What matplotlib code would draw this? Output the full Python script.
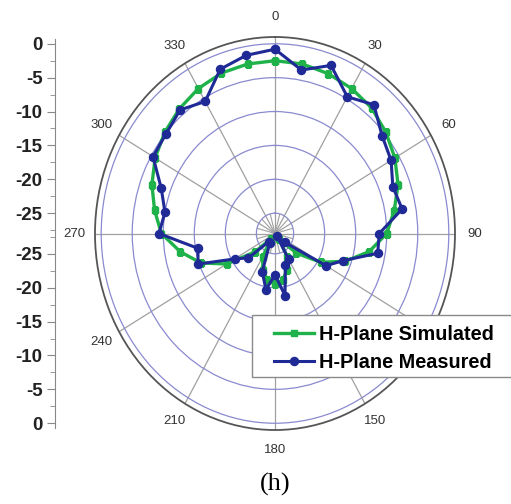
import numpy as np
import matplotlib
matplotlib.use('Agg')
import matplotlib.pyplot as plt
from matplotlib.patches import Rectangle

# H-plane pattern, dB, read every 10 degrees (0..350)
angles = list(range(0, 360, 10))
simulated = [-2.5, -2.6, -2.9, -3.3, -3.8, -4.7, -5.7, -6.9, -8.5, -10.0,
             -12.6, -16.0, -19.5, -23.5, -27.0, -24.0, -22.3, -21.0,
             -20.5, -21.0, -22.3, -24.0, -27.0, -23.8, -19.0, -15.3,
             -12.5, -9.7, -8.3, -6.9, -5.7, -4.8, -4.0, -3.3, -2.8, -2.6]
measured = [-0.8, -3.5, -1.6, -4.7, -3.2, -5.5, -6.4, -7.8, -7.2, -11.2,
            -11.2, -16.3, -18.5, -26.0, -27.5, -23.6, -23.1, -18.7,
            -21.9, -19.6, -22.0, -26.3, -26.4, -22.4, -20.5, -14.8,
            -15.4, -9.3, -10.0, -8.5, -5.3, -5.1, -4.2, -5.5, -2.2, -1.3]

angle_ticks = list(range(0, 360, 30))
# 120 sits under the legend box in the original
angle_labels = ['' if a == 120 else str(a) for a in angle_ticks]
r_ticks = [-25, -20, -15, -10, -5, 0]
left_ticks = [0, -5, -10, -15, -20, -25]
r_min, r_max = -28, 1

plt.rcParams['font.family'] = ['Liberation Sans', 'DejaVu Sans']

W, H = 511, 504
fig = plt.figure(figsize=(W / 100, H / 100), dpi=100)
ax = fig.add_axes([0.1859, 0.1468, 0.7045, 0.7798], projection='polar')
ax.set_aspect('auto')
ax.set_theta_zero_location('N')
ax.set_theta_direction(-1)
ax.set_ylim(r_min, r_max)

ax.set_xticks(np.deg2rad(angle_ticks))
ax.set_xticklabels(angle_labels, fontsize=9.5, color='#333333')
ax.set_xticks(np.deg2rad(np.arange(15, 360, 30)), minor=True)
ax.tick_params(axis='x', which='major', pad=4)
ax.tick_params(axis='x', which='minor', direction='in', length=5, color='#666666')
ax.xaxis.grid(True, color='#a0a0a0', lw=0.9)
ax.set_yticks(r_ticks)
ax.set_yticklabels([])
ax.yaxis.grid(True, color='#8a8ad0', lw=0.9)
ax.spines['polar'].set_color('#555555')
ax.spines['polar'].set_linewidth(1.3)

# short extra spokes inside the innermost ring
ax.vlines(np.deg2rad(np.arange(15, 360, 30)), r_min, r_ticks[0], color='#a0a0a0', lw=0.8)

th_s = np.deg2rad(angles + [angles[0]])
green, = ax.plot(th_s, simulated + [simulated[0]], color='#1fb24a', lw=2.4,
                 marker='s', ms=4.5, label='H-Plane Simulated', zorder=3)
blue, = ax.plot(th_s, measured + [measured[0]], color='#1f2a96', lw=2.2,
                marker='o', ms=5.8, label='H-Plane Measured', zorder=4)

# mirrored linear axis on the left
lax = fig.add_axes([55 / W, 0.1468, 0.001, 0.7798])
span = r_max - r_min
lax.set_ylim(-span, span)
pos = [t - r_min for t in left_ticks] + [-(t - r_min) for t in left_ticks]
lax.set_yticks(pos)
lax.set_yticklabels([str(t) for t in left_ticks] * 2, fontsize=13.5,
                    fontweight='bold', color='#222222')
minor = np.arange(-2.5, -30, -5)
lax.set_yticks(list(minor - r_min) + list(-(minor - r_min)), minor=True)
lax.tick_params(axis='y', which='major', length=6, color='#888888', pad=3)
lax.tick_params(axis='y', which='minor', length=3.5, color='#888888')
lax.set_xticks([])
for side in ['top', 'right', 'bottom']:
    lax.spines[side].set_visible(False)
lax.spines['left'].set_color('#888888')
lax.spines['left'].set_bounds(-28.7, 28.7)
lax.patch.set_visible(False)

# legend box runs off the right edge in the original
fig.patches.append(Rectangle((252 / W, 1 - 377 / H), 270 / W, 62 / H,
                             transform=fig.transFigure, facecolor='white',
                             edgecolor='#8a8a8a', lw=1.0, zorder=4))
fig.legend(handles=[green, blue], loc='center left',
           bbox_to_anchor=(274 / W, 1 - 348.5 / H), borderaxespad=0,
           frameon=False, prop={'weight': 'bold', 'size': 14.3},
           handlelength=2.0, handletextpad=0.25, borderpad=0,
           labelspacing=0.45).set_zorder(5)

fig.text(275 / W, 1 - 484 / H, '(h)', ha='center', va='center',
         family='Liberation Serif', size=19)

fig.savefig('out.png', dpi=100)
